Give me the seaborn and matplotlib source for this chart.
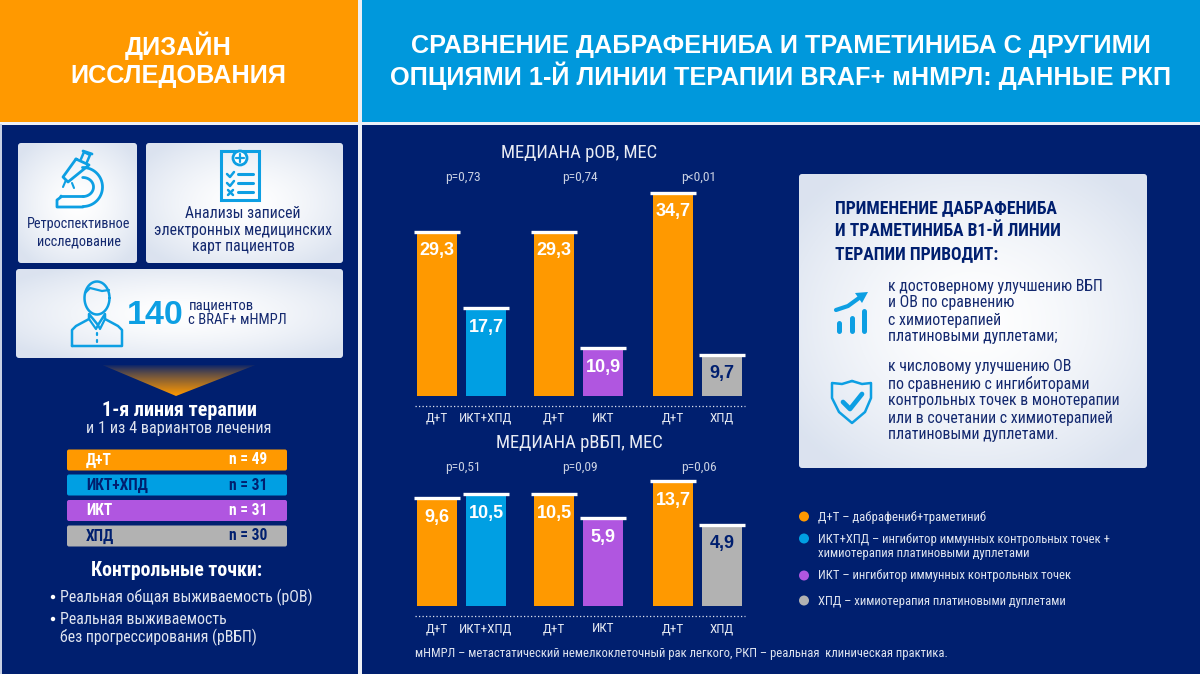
import numpy as np
import pandas as pd
import matplotlib
matplotlib.use("Agg")
import matplotlib.pyplot as plt
import seaborn as sns
from matplotlib.patches import FancyBboxPatch, Polygon, Circle, Rectangle

# ---------- data ----------
groups_os = [["Д+Т", "ИКТ+ХПД"], ["Д+Т", "ИКТ"], ["Д+Т", "ХПД"]]
median_os = [[29.3, 17.7], [29.3, 10.9], [34.7, 9.7]]
p_os = ["p=0,73", "p=0,74", "p<0,01"]
median_pfs = [[9.6, 10.5], [10.5, 5.9], [13.7, 4.9]]
p_pfs = ["p=0,51", "p=0,09", "p=0,06"]
arm_names = ["Д+Т", "ИКТ+ХПД", "ИКТ", "ХПД"]
arm_n = [49, 31, 31, 30]

ORANGE, BLUE, PURPLE, GREY = "#ff9900", "#009fe3", "#b056e0", "#b2b2b2"
NAVY = "#001f6f"
DARK = "#14296f"
palette = dict(zip(arm_names, [ORANGE, BLUE, PURPLE, GREY]))
label_col = {"Д+Т": "white", "ИКТ+ХПД": "white", "ИКТ": "white", "ХПД": NAVY}

sns.set_theme(style="white")
NARROW = ["Roboto Condensed", "Liberation Sans"]
plt.rcParams["font.family"] = ["Liberation Sans", "DejaVu Sans"]

W, H = 1200, 674
fig = plt.figure(figsize=(W / 100, H / 100), dpi=100, facecolor=NAVY)
bg = fig.add_axes([0, 0, 1, 1])
bg.set_xlim(0, W)
bg.set_ylim(H, 0)
bg.axis("off")


def txt(x, y, s, size=10, color="white", weight="normal", ha="center", fam=NARROW, **kw):
    return bg.text(x, y, s, fontsize=size, color=color, fontweight=weight, ha=ha,
                   va="center", family=fam, **kw)


# headers and separators
bg.add_patch(Rectangle((0, 0), 358, 122, fc=ORANGE, ec="none"))
bg.add_patch(Rectangle((362, 0), 838, 122, fc="#0098dc", ec="none"))
bg.add_patch(Rectangle((358, 0), 4, H, fc="#eef0f6", ec="none"))
bg.add_patch(Rectangle((0, 122), W, 2.5, fc="#eef0f6", ec="none"))
bg.add_patch(Rectangle((0, 124), 1.5, H, fc="#c8d0e4", ec="none"))

HF = ["Liberation Sans"]
txt(178, 46, "ДИЗАЙН", 18.2, weight="bold", fam=HF)
txt(178, 76, "ИССЛЕДОВАНИЯ", 18.2, weight="bold", fam=HF)
txt(781, 46, "СРАВНЕНИЕ ДАБРАФЕНИБА И ТРАМЕТИНИБА С ДРУГИМИ", 18.2, weight="bold", fam=HF)
txt(781, 76, "ОПЦИЯМИ 1-Й ЛИНИИ ТЕРАПИИ BRAF+ мНМРЛ: ДАННЫЕ РКП", 18.2, weight="bold", fam=HF)


# cards with radial gradient
def card(x0, y0, x1, y1):
    yy, xx = np.mgrid[-1:1:80j, -1:1:160j]
    r = np.clip(np.sqrt(xx ** 2 + yy ** 2) / 1.25, 0, 1)
    c0, c1 = np.array([1, 1, 1.0]), np.array([0.86, 0.89, 0.94])
    img = c0 + (c1 - c0) * r[..., None] ** 1.5
    im = bg.imshow(img, extent=(x0, x1, y1, y0), aspect="auto", zorder=1, interpolation="bilinear")
    clip = FancyBboxPatch((x0 + 3, y0 + 3), x1 - x0 - 6, y1 - y0 - 6,
                          boxstyle="round,pad=3", fc="none", ec="none", transform=bg.transData)
    bg.add_patch(clip)
    im.set_clip_path(clip)


card(18, 143, 137, 263)
card(146, 143, 343, 263)
card(16, 269, 343, 358)
card(799, 174, 1147, 468)
bg.set_xlim(0, W)
bg.set_ylim(H, 0)

ICON = "#0d9fe3"


def pl(xs, ys, lw=2, col=ICON, z=3, **kw):
    bg.plot(xs, ys, color=col, lw=lw, solid_capstyle="round", solid_joinstyle="round", zorder=z, **kw)


# microscope
pl([83, 92], [151, 154], 2)
pl([81, 84, 90, 87], [159, 152, 155, 162], 1.8)
pl([76, 89, 68, 63, 76], [159, 165, 182, 177, 159], 2)
t = np.linspace(-1.6, 1.57, 40)
pl(83 + 19.5 * np.cos(t), 187 + 19.5 * np.sin(t), 2)
pl(83 + 10.5 * np.cos(t), 187 + 9.5 * np.sin(t), 2)
pl([66, 63], [180, 187], 1.5)
pl([72, 74], [183, 188], 1.5)
pl([61, 61, 57, 57, 83], [196, 197, 200, 207, 207], 2)
pl([61, 83], [196, 196], 2)
txt(79, 224, "Ретроспективное", 10.3, DARK)
txt(79, 241, "исследование", 10.3, DARK)

# clipboard
bg.add_patch(Rectangle((221, 151), 38, 49, fc="none", ec=ICON, lw=2.2, zorder=3))
bg.add_patch(Circle((240, 158), 7, fc="white", ec=ICON, lw=2, zorder=4))
pl([236, 244], [158, 158], 1.6, z=5)
pl([240, 240], [154, 162], 1.6, z=5)
for yy in [174, 183, 192]:
    pl([238, 253], [yy, yy], 2.2)
pl([227, 230, 234], [174, 177, 172], 1.8)
pl([227, 230, 234], [183, 186, 181], 1.8)
pl([228, 233], [190, 195], 1.8)
pl([228, 233], [195, 190], 1.8)
txt(243, 213, "Анализы записей", 11.3, DARK)
txt(243, 230, "электронных медицинских", 11.3, DARK)
txt(243, 247, "карт пациентов", 11.3, DARK)

# person
t = np.linspace(0, 2 * np.pi, 50)
pl(97 + 12.5 * np.cos(t), 298 + 16.5 * np.sin(t), 1.8)
pl([85, 90, 102, 109], [293, 288, 291, 290], 1.6)
pl([72, 72, 76, 89, 89, 98, 105, 105, 118, 122, 122, 72],
   [346, 330, 326, 319, 314, 325, 314, 319, 326, 330, 346, 346], 1.8)
pl([89, 96, 98, 100, 105], [319, 329, 325, 329, 319], 1.6)
pl([97, 97], [333, 335], 1.6)
pl([97, 97], [340, 342], 1.6)
txt(127, 315, "140", 24.5, ICON, weight="bold", ha="left", fam=HF)
txt(188.5, 305, "пациентов", 10.5, DARK, ha="left")
txt(188.5, 320, "с BRAF+ мНМРЛ", 10.5, DARK, ha="left")

# gradient triangle
grad = np.zeros((40, 2, 4))
grad[..., :3] = matplotlib.colors.to_rgb(ORANGE)
grad[..., 3] = (np.linspace(0, 1, 40) ** 0.8)[:, None]
tri = Polygon([[100, 364], [258, 364], [176, 396]], closed=True, fc="none", ec="none")
bg.add_patch(tri)
im = bg.imshow(grad, extent=(100, 260, 396, 364), aspect="auto", zorder=2)
im.set_clip_path(tri)
bg.add_patch(Rectangle((100, 358), 160, 7, fc=NAVY, ec="none", zorder=2.5))
bg.set_xlim(0, W)
bg.set_ylim(H, 0)

txt(179, 410, "1-я линия терапии", 14.5, weight="bold")
txt(179, 428, "и 1 из 4 вариантов лечения", 11.7, "#dfe4ef")

# arm rows
row_y = [460, 485, 510.5, 536]
for name, n, yy in zip(arm_names, arm_n, row_y):
    bg.add_patch(FancyBboxPatch((69, yy - 8.5), 216, 17, boxstyle="round,pad=2", fc=palette[name],
                                ec="none", zorder=2))
    c = label_col[name] if name != "ИКТ+ХПД" else NAVY
    txt(86, yy, name, 11.2, c, weight="bold", ha="left", zorder=3)
    txt(229, yy, f"n = {n}", 11.2, c, weight="bold", ha="left", zorder=3)

txt(177, 570, "Контрольные точки:", 14.2, weight="bold")
for x0, yy, s in [(60, 597, "Реальная общая выживаемость (рОВ)"),
                  (60, 619, "Реальная выживаемость"),
                  (60, 637, "без прогрессирования (рВБП)")]:
    txt(x0, yy, s, 11.4, "#dfe4ef", ha="left")
bg.add_patch(Circle((53, 597), 1.5, fc="white"))
bg.add_patch(Circle((53, 619), 1.5, fc="white"))

# panel titles
txt(579, 153, "МЕДИАНА рОВ, МЕС", 13.4, "#e8ebf3")
txt(579, 443, "МЕДИАНА рВБП, МЕС", 13.4, "#e8ebf3")


# ---------- bar panels ----------
def panel(values, pvals, base_y, top_y, power, p_y, tick_pad):
    top = max(max(v) for v in values)
    lefts = [412.5, 529.5, 648.5]
    for names, vals, pv, left in zip(groups_os, values, pvals, lefts):
        ax = fig.add_axes([left / W, 1 - base_y / H, 98 / W, (base_y - top_y) / H])
        ax.patch.set_alpha(0)
        ax.set_yscale("function", functions=(lambda v: np.maximum(v, 0) ** power,
                                             lambda v: np.maximum(v, 0) ** (1 / power)))
        df = pd.DataFrame({"arm": names, "months": vals})
        sns.barplot(df, x="arm", y="months", hue="arm", palette=palette, width=0.816,
                    dodge=False, legend=False, saturation=1, linewidth=0, ax=ax)
        ax.set_xlim(-0.5, 1.5)
        ax.set_ylim(0, top)
        ax.set_xlabel("")
        ax.set_ylabel("")
        ax.set_yticks([])
        ax.minorticks_off()
        ax.tick_params(axis="x", length=0, pad=tick_pad, labelsize=9.5, labelcolor="#e8ebf3")
        for lab in ax.get_xticklabels():
            lab.set_family(NARROW)
            lab.set_verticalalignment("baseline")
        sns.despine(ax=ax, left=True, bottom=True)
        for i, (name, v) in enumerate(zip(names, vals)):
            ax.hlines(v, i - 0.47, i + 0.47, color="white", lw=2.4, clip_on=False, zorder=5)
            ax.annotate(f"{v:.1f}".replace(".", ","), (i, v), xytext=(0, -19),
                        textcoords="offset pixels", ha="center", va="center",
                        fontsize=13, fontweight="bold", color=label_col[name], family=HF,
                        zorder=6)
        txt(left + 50, p_y, pv, 9.7, "#c9d0e2")
    bg.plot([415, 745], [base_y + 9.5, base_y + 9.5], color="#dfe4ef", lw=0.9, ls=(0, (1, 1.8)), zorder=2)


panel(median_os, p_os, 396, 193, 1.25, 178, 18.4)
panel(median_pfs, p_pfs, 606, 481, 0.42, 467, 19)

txt(415, 654, "мНМРЛ – метастатический немелкоклеточный рак легкого, РКП – реальная  клиническая практика.",
    9.05, "#dfe4ef", ha="left")

# ---------- conclusion box ----------
for yy, s in [(208, "ПРИМЕНЕНИЕ ДАБРАФЕНИБА"), (231, "И ТРАМЕТИНИБА В1-Й ЛИНИИ"), (254, "ТЕРАПИИ ПРИВОДИТ:")]:
    txt(835, yy, s, 12.7, NAVY, weight="bold", ha="left", zorder=3)
for yy, s in [(287, "к достоверному улучшению ВБП"), (303, "и ОВ по сравнению"),
              (320, "с химиотерапией"), (337, "платиновыми дуплетами;"),
              (367, "к числовому улучшению ОВ"), (384, "по сравнению с ингибиторами"),
              (401, "контрольных точек в монотерапии"), (418, "или в сочетании с химиотерапией"),
              (434, "платиновыми дуплетами.")]:
    txt(887.5, yy, s, 11.45, DARK, ha="left", zorder=3)

# trend icon
for x0, y0 in [(838, 323), (851, 318), (863, 311)]:
    pl([x0 + 1, x0 + 1], [y0, 331], 3.6)
bg.plot([836, 848, 859], [310, 306, 298], color=ICON, lw=3, zorder=3)
bg.add_patch(Polygon([[855, 293], [868, 292], [862, 303]], fc=ICON, ec="none", zorder=3))

# shield icon
sx = [852, 862, 871, 871, 865, 852, 839, 832, 832, 842, 852]
sy = [381, 384, 383, 398, 412, 423, 412, 398, 383, 384, 381]
pl(sx, sy, 1.8)
pl([843, 850, 862], [402, 409, 394], 3.4)

# ---------- legend ----------
leg = [(517, ORANGE, ["Д+Т – дабрафениб+траметиниб"]),
       (539, BLUE, ["ИКТ+ХПД – ингибитор иммунных контрольных точек +",
                    "химиотерапия платиновыми дуплетами"]),
       (576, PURPLE, ["ИКТ – ингибитор иммунных контрольных точек"]),
       (601, GREY, ["ХПД – химиотерапия платиновыми дуплетами"])]
for yy, c, lines in leg:
    bg.add_patch(Circle((804, yy - 0.5), 5, fc=c, ec="none"))
    for k, s in enumerate(lines):
        txt(818, yy + 14 * k, s, 9.15, "#dfe4ef", ha="left")

fig.savefig("out.png", dpi=100, facecolor=NAVY)
